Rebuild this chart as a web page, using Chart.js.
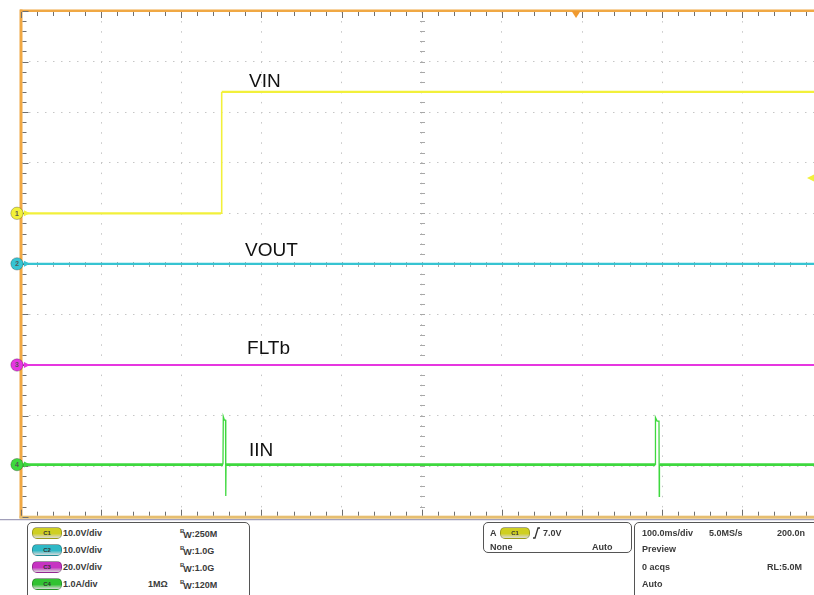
<!DOCTYPE html>
<html><head><meta charset="utf-8">
<script src="https://cdn.jsdelivr.net/npm/chart.js@4/dist/chart.umd.min.js"></script>
<style>
html,body{margin:0;padding:0;overflow:hidden;background:#fff;width:814px;height:595px;position:relative}
#wrap{position:absolute;left:0;top:0;width:830px;height:595px}
.box{position:absolute;border:1.5px solid #555;border-radius:5px;background:#fff;box-sizing:border-box}
.t{position:absolute;font:bold 9px "Liberation Sans",Arial,sans-serif;color:#3a3a3a;line-height:10px;white-space:nowrap;transform:translateY(-50%)}
.pill{position:absolute;width:28px;height:10px;border-radius:5px;transform:translateY(-50%);font:bold 6px "Liberation Sans",Arial,sans-serif;color:#333;text-align:center;line-height:10px}
.bw{position:absolute;font:bold 9px "Liberation Sans",Arial,sans-serif;color:#3a3a3a;line-height:10px;white-space:nowrap;transform:translateY(-50%)}
.bw sup{font-size:6px;vertical-align:4px;margin-right:-1px}
.bw sub{font-size:9px;vertical-align:-1px}
</style>
</head><body>
<div id="wrap"><canvas id="c" width="830" height="595"></canvas></div>
<div id="panel"></div>
<script>
// ---- data (time in ms, physical units) ----
const channelNames = ['VIN', 'VOUT', 'FLTb', 'IIN'];
const channelUnits = ['V', 'V', 'V', 'A'];
const channelPerDiv = [10, 10, 20, 1];          // units per division
const channelPosition = [1.0, 0.0, -2.0, -3.97]; // ground position in divisions
const channelColors = ['#f2f03a', '#36c4d2', '#e636e0', '#3ed83e'];
const channelBandwidth = ['250M', '1.0G', '1.0G', '120M'];

const vinTime  = [0, 249.6, 250.4, 1000];
const vinVolts = [0, 0, 24, 24];
const voutTime  = [0, 1000];
const voutVolts = [0, 0];
const fltTime  = [0, 1000];
const fltVolts = [0, 0];
const iinTime = [0, 252, 252.4, 253.8, 255.2, 255.5, 255.8, 791.2, 791.6, 793.6, 796.0, 796.3, 796.6, 1000];
const iinAmps = [0, 0, 0.95, 0.88, 0.88, -0.62, 0, 0, 0.93, 0.86, 0.86, -0.63, 0, 0];

const xTicksMs = [0, 100, 200, 300, 400, 500, 600, 700, 800, 900, 1000];
const triggerLevelV = 7.0;
const triggerTimeMs = 692.5;

// label placement (ms, div)
const labelTime = [284.5, 279.5, 282, 284.5];
const labelDiv  = [3.63, 0.27, -1.66, -3.68];

function toDiv(v, ch){ return channelPosition[ch] + v / channelPerDiv[ch]; }
function pts(t, v, ch){ return t.map((x,i)=>({x:x, y:toDiv(v[i], ch)})); }

const thinSteps = (wide, thin) => ({borderWidth: c => Math.abs(c.p1.parsed.x - c.p0.parsed.x) < 5 ? thin : wide});

const datasets = [
  {data: pts(vinTime, vinVolts, 0), borderColor: channelColors[0], borderWidth: 2.2, segment: thinSteps(2.2, 1.6)},
  {data: pts(voutTime, voutVolts, 1), borderColor: channelColors[1], borderWidth: 2.2},
  {data: pts(fltTime, fltVolts, 2), borderColor: channelColors[2], borderWidth: 2.2},
  {data: pts(iinTime, iinAmps, 3), borderColor: channelColors[3], borderWidth: 2.8, segment: thinSteps(2.8, 1.3)}
].map((d,i)=>Object.assign(d,{label:channelNames[i], pointRadius:0, tension:0, fill:false}));

const scopeDecor = {
  id: 'scopeDecor',
  beforeDatasetsDraw(chart){
    const {ctx, chartArea:a, scales:{x,y}} = chart;
    ctx.save();
    ctx.strokeStyle = '#a8a8a8'; ctx.lineWidth = 1;
    const cx = Math.round(x.getPixelForValue(500)) + 0.5;
    const cy = Math.round(y.getPixelForValue(0)) + 0.5;
    ctx.beginPath();
    for (let d = -5; d <= 5.001; d += 0.2){
      const py = Math.round(y.getPixelForValue(d)) + 0.5;
      ctx.moveTo(cx - 2.5, py); ctx.lineTo(cx + 2.5, py);
    }
    for (let t = 0; t <= 1000.1; t += 20){
      const px = Math.round(x.getPixelForValue(t)) + 0.5;
      ctx.moveTo(px, cy - 2.5); ctx.lineTo(px, cy + 2.5);
    }
    ctx.stroke();
    ctx.restore();
  },
  afterDatasetsDraw(chart){
    const {ctx, chartArea:a, scales:{x,y}} = chart;
    ctx.save();
    // borders
    ctx.fillStyle = '#f0a844';
    ctx.fillRect(a.left - 1, a.top - 1.5, a.right - a.left + 10, 2.5);
    ctx.fillRect(a.left - 1.5, a.top - 1.5, 3, a.bottom - a.top + 3);
    ctx.fillStyle = '#e6be70';
    ctx.fillRect(a.left - 1.5, a.bottom - 1, a.right - a.left + 10, 3);
    ctx.fillStyle = '#8a88a8';
    ctx.fillRect(0, a.bottom + 2.5, 830, 1);
    // border ticks
    ctx.strokeStyle = '#6f6f6f'; ctx.lineWidth = 1;
    ctx.beginPath();
    for (let t = 0; t <= 1000.1; t += 20){
      const px = Math.round(x.getPixelForValue(t)) + 0.5;
      const major = Math.abs(t % 100) < 0.01;
      const L = major ? 6 : 4;
      ctx.moveTo(px, a.top + 1); ctx.lineTo(px, a.top + 1 + L);
      ctx.moveTo(px, a.bottom - 1); ctx.lineTo(px, a.bottom - 1 - L);
    }
    for (let d = -5; d <= 5.001; d += 0.2){
      const py = Math.round(y.getPixelForValue(d)) + 0.5;
      const major = Math.abs(d - Math.round(d)) < 0.01;
      const L = major ? 6 : 4;
      ctx.moveTo(a.left + 1.5, py); ctx.lineTo(a.left + 1.5 + L, py);
    }
    ctx.stroke();
    // trigger position marker (top)
    const tx = x.getPixelForValue(triggerTimeMs);
    ctx.fillStyle = '#f09a30';
    ctx.beginPath(); ctx.moveTo(tx - 4.5, a.top); ctx.lineTo(tx + 4.5, a.top); ctx.lineTo(tx, a.top + 7); ctx.closePath(); ctx.fill();
    // trigger level marker (right)
    const ty = y.getPixelForValue(toDiv(triggerLevelV, 0));
    ctx.fillStyle = channelColors[0];
    ctx.beginPath(); ctx.moveTo(807, ty); ctx.lineTo(814, ty - 3.5); ctx.lineTo(814, ty + 3.5); ctx.closePath(); ctx.fill();
    // channel ground markers
    for (let ch = 0; ch < 4; ch++){
      const py = y.getPixelForValue(channelPosition[ch]);
      ctx.fillStyle = channelColors[ch];
      ctx.beginPath(); ctx.moveTo(a.left + 3, py - 3); ctx.lineTo(a.left + 9, py); ctx.lineTo(a.left + 3, py + 3); ctx.closePath(); ctx.fill();
      ctx.beginPath(); ctx.arc(17, py, 6.2, 0, Math.PI * 2); ctx.fill();
      ctx.strokeStyle = 'rgba(0,0,0,0.25)'; ctx.lineWidth = 1; ctx.stroke();
      ctx.fillStyle = '#555'; ctx.font = 'bold 7px "Liberation Sans", Arial, sans-serif';
      ctx.textAlign = 'center'; ctx.textBaseline = 'middle';
      ctx.fillText(String(ch + 1), 17, py + 0.5);
    }
    // trace labels
    ctx.fillStyle = '#111';
    ctx.font = '19px "Liberation Sans", Arial, sans-serif';
    ctx.textAlign = 'left'; ctx.textBaseline = 'middle';
    for (let i = 0; i < 4; i++){
      ctx.fillText(channelNames[i], x.getPixelForValue(labelTime[i]), y.getPixelForValue(labelDiv[i]) + 1);
    }
    ctx.restore();
  }
};

new Chart(document.getElementById('c'), {
  type: 'line',
  data: {datasets},
  plugins: [scopeDecor],
  options: {
    responsive: false, animation: false, devicePixelRatio: 1,
    layout: {padding: {left: 21, top: 11, right: 7.5, bottom: 78.3}},
    plugins: {legend: {display: false}, tooltip: {enabled: false}},
    scales: {
      x: {type: 'linear', min: 0, max: 1000,
          afterBuildTicks: s => { s.ticks = xTicksMs.map(v => ({value: v})); },
          ticks: {display: false}, border: {display: false, dash: [1.5, 8.6]},
          grid: {color: '#c6c6c6', lineWidth: 1, drawTicks: false}},
      y: {type: 'linear', min: -5, max: 5,
          ticks: {display: false, stepSize: 1}, border: {display: false, dash: [1.5, 6.5]},
          grid: {color: '#c6c6c6', lineWidth: 1, drawTicks: false}}
    }
  }
});

// ---- bottom status panel (HTML text) ----
const P = document.getElementById('panel');
function add(html){ P.insertAdjacentHTML('beforeend', html); }
function txt(s, x, y, extra){ add(`<div class="t" style="left:${x}px;top:${y}px;${extra||''}">${s}</div>`); }
function pill(lbl, x, y, col){ add(`<div class="pill" style="left:${x}px;top:${y}px;background:linear-gradient(${col},${col} 55%,rgba(0,0,0,0.15));border:1px solid rgba(0,0,0,0.25)">${lbl}</div>`); }
add('<div class="box" style="left:27px;top:522px;width:223px;height:80px"></div>');
add('<div class="box" style="left:483px;top:522px;width:149px;height:31px"></div>');
add('<div class="box" style="left:634px;top:522px;width:200px;height:80px"></div>');
const rowY = [533, 550, 567, 584];
const pillCols = ['#cfcf22', '#2fb8c6', '#c634c2', '#32c232'];
for (let i = 0; i < 4; i++){
  pill('C' + (i + 1), 32, rowY[i], pillCols[i]);
  txt(channelPerDiv[i].toFixed(1) + channelUnits[i] + '/div', 63, rowY[i]);
  add(`<div class="bw" style="left:180px;top:${rowY[i]}px"><sup>B</sup><sub>W</sub>:${channelBandwidth[i]}</div>`);
}
txt('1MΩ', 148, rowY[3]);
txt('A', 490, 533);
pill('C1', 500, 533, pillCols[0]);
add('<svg style="position:absolute;left:532px;top:527px" width="9" height="12"><path d="M1 11 L3 11 L6 1 L8 1" stroke="#333" stroke-width="1.3" fill="none"/></svg>');
txt(triggerLevelV.toFixed(1) + 'V', 543, 533);
txt('None', 490, 547);
txt('Auto', 592, 547);
txt('100.0ms/div', 642, 533);
txt('5.0MS/s', 709, 533);
txt('200.0n', 777, 533);
txt('Preview', 642, 549);
txt('0 acqs', 642, 567);
txt('RL:5.0M', 767, 567);
txt('Auto', 642, 584);
</script>
</body></html>
